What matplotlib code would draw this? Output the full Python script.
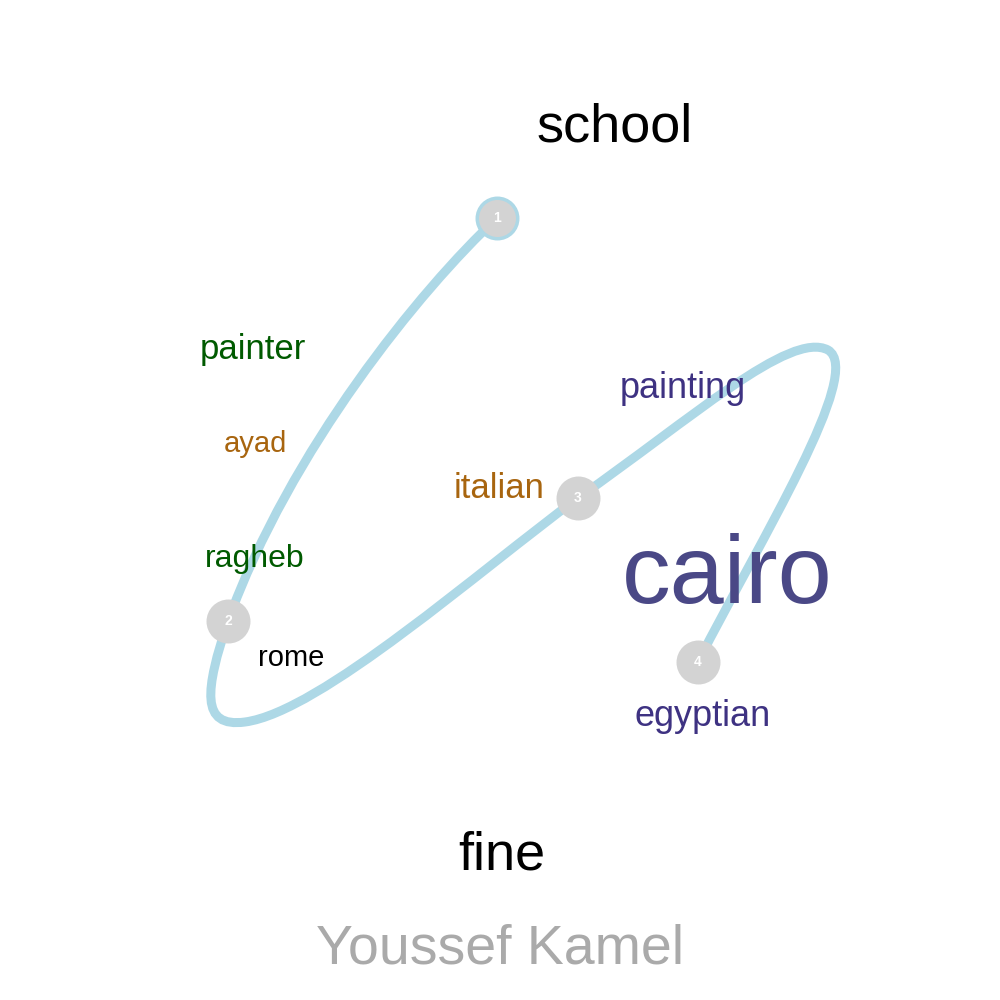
import matplotlib

matplotlib.use("Agg")
import matplotlib.pyplot as plt
from matplotlib.path import Path
from matplotlib.patches import PathPatch

plt.rcParams["font.family"] = ["Liberation Sans", "DejaVu Sans"]

# numbered points along the path (pixel-like coordinates)
point_ids = ["1", "2", "3", "4"]
point_x = [497, 228, 578, 698]
point_y = [218, 621, 498, 662]

# bezier path: vertices and control points
path_xy = [(497, 218), (420, 290), (290, 450), (228, 621),
           (205, 690), (200, 728), (245, 722),
           (320, 712), (480, 570), (578, 498),
           (690, 420), (790, 330), (828, 350),
           (865, 372), (760, 540), (698, 662)]

words = ["school", "painter", "ayad", "ragheb", "rome", "italian", "painting", "cairo", "egyptian", "fine"]
word_x = [615, 253, 255, 255, 291, 499, 683, 727, 703, 502]
word_y = [128, 350, 444, 559, 658, 488, 388, 578, 716, 855]
word_size = [39, 25, 21, 23, 21, 25, 26, 70, 26, 39]
word_color = ["black", "#005a00", "#a8650f", "#005a00", "black", "#a8650f",
              "#3e3282", "#4a4886", "#3e3282", "black"]

fig = plt.figure(figsize=(10, 10), dpi=100)
ax = fig.add_axes([0, 0, 1, 1])
ax.set_xlim(0, 1000)
ax.set_ylim(1000, 0)
ax.axis("off")

codes = [Path.MOVETO] + [Path.CURVE4] * (len(path_xy) - 1)
ax.add_patch(PathPatch(Path(path_xy, codes), facecolor="none", edgecolor="#add8e6", lw=6.5, capstyle="round"))

for i, (pid, x, y) in enumerate(zip(point_ids, point_x, point_y)):
    ec = "#add8e6" if i == 0 else "#d3d3d3"
    ax.scatter([x], [y], s=850, color="#d3d3d3", edgecolors=ec, linewidths=2.5, zorder=3)
    ax.text(x, y, pid, color="white", fontsize=10, fontweight="bold", ha="center", va="center", zorder=4)

for w, x, y, s, c in zip(words, word_x, word_y, word_size, word_color):
    ax.text(x, y, w, fontsize=s, color=c, ha="center", va="center")

ax.text(500, 950, "Youssef Kamel", fontsize=40, color="#aaaaaa", ha="center", va="center")

fig.savefig("out.png", dpi=100)
